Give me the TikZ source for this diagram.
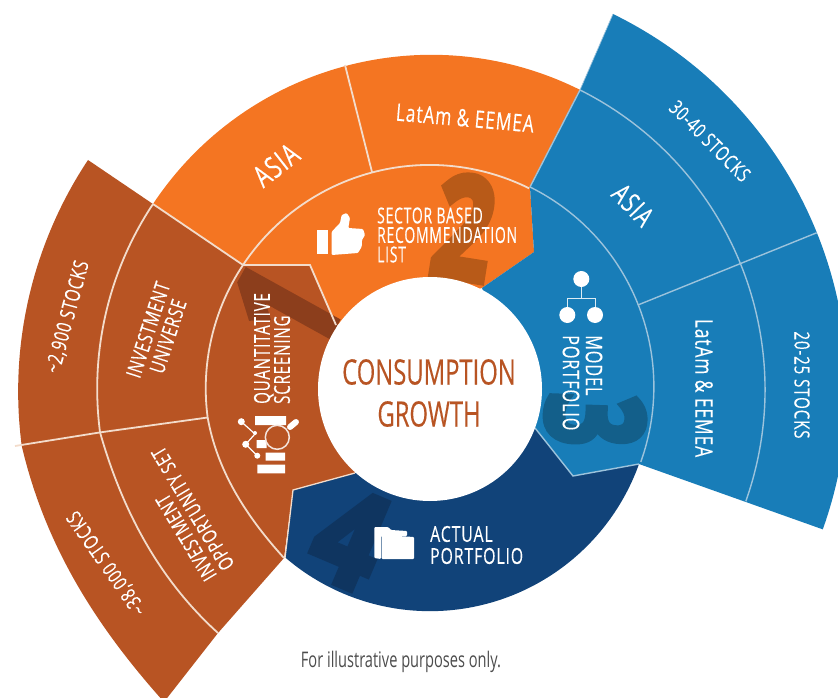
\documentclass[tikz,border=0pt]{standalone}
\usepackage{fontspec}
\setmainfont{Open Sans}
\newfontfamily\lblfont[FakeStretch=0.72,LetterSpace=4,FakeBold=0.25]{Open Sans}
\newfontfamily\ctrfont[FakeStretch=0.68,FakeBold=0.25]{Open Sans}
\newfontfamily\footfont[FakeStretch=0.68]{Open Sans}
\newfontfamily\numfont[FakeStretch=0.9,FakeBold=5]{Open Sans Bold}
\definecolor{cOrange}{HTML}{F47522}
\definecolor{cBrown}{HTML}{B85423}
\definecolor{cBlue}{HTML}{187DB8}
\definecolor{cNavy}{HTML}{114379}
\definecolor{cNumA}{HTML}{8C3E1C}
\definecolor{cNumB}{HTML}{B85A18}
\definecolor{cNumC}{HTML}{135F8A}
\definecolor{cNumD}{HTML}{0F3560}
\definecolor{cLine}{HTML}{F3DCCB}
\definecolor{cLineB}{HTML}{9CC3DC}
\tikzset{
 lbl/.style={text=white,inner sep=0pt,font=\lblfont\fontsize{#1}{#1}\selectfont,transform shape},
 lbl/.default=20,
 bignum/.style={inner sep=0pt,font=\numfont\fontsize{#1}{#1}\selectfont,transform shape},
 sepw/.style={draw=cLine,line width=1.8pt},
 sepb/.style={draw=cLineB,line width=1.4pt},
 icon/.style={fill=white,draw=none},
}
\begin{document}
\begin{tikzpicture}[x=1pt,y=-1pt]
\clip (0,0) rectangle (838,698);
\useasboundingbox (0,0) rectangle (838,698);
\coordinate (c) at (430,389);
% fills
\fill[cOrange] (153,204) arc[start angle=146.4,end angle=63.5,radius=334pt] -- (530,187) -- (534,252) -- (482,288) -- (336,325) -- (310,265) -- (243,265) -- cycle;
\fill[cBlue] (580,90) -- (613,14) arc[start angle=64,end angle=-19.7,radius=417pt] -- (639,464) -- (573,476) -- (535,428) -- (482,288) -- (534,252) -- (530,187) -- cycle;
\fill[cNavy] (639,464) arc[start angle=-19.7,end angle=-130.7,radius=222pt] -- (293,490) -- (355,473) -- (535,428) -- (573,476) -- cycle;
\fill[cBrown] (88,160) arc[start angle=146.4,end angle=187.5,radius=418pt] .. controls (45,545) and (95,625) .. (164,702) -- (218,633) -- (284,558) -- (293,490) -- (355,473) -- (336,325) -- (310,265) -- (243,265) -- cycle;
% big numbers under the separators
\node[bignum=142,text=cNumA,rotate=61,xscale=.85] (n1) at (285,308) {1};
\node[bignum=142,text=cNumB,rotate=-9,xscale=.8] (n2) at (464,227) {2};
\node[bignum=134,text=cNumC,rotate=-92,xscale=.76] (n3) at (595,420) {3};
\node[bignum=132,text=cNumD,rotate=-23,xscale=.95] (n4) at (350,538) {4};
% brown separators
\draw[sepw] (153,204) -- (243,265) -- (310,265) -- (336,325);
\draw[sepw] (243,265) arc[start angle=146.4,end angle=187.5,radius=223pt] coordinate (b2) .. controls (217,470) and (245,515) .. (284,558);
\draw[sepw] (153,204) arc[start angle=146.4,end angle=187.5,radius=334pt] coordinate (b3) .. controls (125,520) and (165,585) .. (218,633);
\draw[sepw] (b2) -- (b3) -- (15,446);
% orange separators
\draw[sepw] (243,265) arc[start angle=146.4,end angle=63.6,radius=224pt];
\draw[sepw] (372,172) -- (345,65);
% blue separators
\draw[sepb] (530,187) arc[start angle=63.6,end angle=-19.7,radius=223pt];
\draw[sepb] (580,90) arc[start angle=63.4,end angle=-19.5,radius=335pt];
\draw[sepb] (530,187) -- (580,90);
\draw[sepb,line width=.7pt] (580,90) -- (613,14);
\path (c) ++(22:224pt) coordinate (s1) (c) ++(22:417pt) coordinate (s2);
\draw[sepb] (s1) -- (s2);
\draw[sepb] (535,428) -- (573,476) -- (639,464);
\draw[sepw,line width=1.3pt] (355,473) -- (293,490) -- (285,558);
% white centre
\fill[white] (c) circle[radius=112pt];
% centre title
\node[text=cBrown,inner sep=0pt,align=center,font=\ctrfont\fontsize{35}{42}\selectfont] (title) at (429,393) {CONSUMPTION\\GROWTH};
% ring labels
\node[lbl=22,xscale=.88,anchor=west,align=left] (t2) at (377,235) {SECTOR BASED\\[-2.5pt]RECOMMENDATION\\[-2.5pt]LIST};
\node[lbl=22,rotate=90,xscale=.95,anchor=west,align=left] (t1) at (272,404) {QUANTITATIVE\\[-2pt]SCREENING};
\node[lbl=23,rotate=-90,xscale=.98,anchor=west,align=left] (t3) at (582.5,335) {MODEL\\PORTFOLIO};
\node[lbl=22,anchor=west,align=left] (t4) at (430,545) {ACTUAL\\PORTFOLIO};
% outer labels
\node[lbl=30,rotate=38] (o1) at (276,165) {ASIA};
\node[lbl=24,rotate=-5] (o2) at (465,118) {LatAm \& EEMEA};
\node[lbl=28,rotate=-46] (o3) at (633,205) {ASIA};
\node[lbl=20.5,rotate=-45] (o4) at (710,141) {30-40 STOCKS};
\node[lbl=24,rotate=-90] (o5) at (704,388) {LatAm \& EEMEA};
\node[lbl=21,rotate=-90] (o6) at (802,385) {20-25 STOCKS};
\node[lbl=21,rotate=72,align=center] (o7) at (158,333) {INVESTMENT\\UNIVERSE};
\node[lbl=21,rotate=75] (o8) at (68,317) {\textasciitilde 2,900 STOCKS};
\node[lbl=20.5,rotate=121,align=left] (o9) at (184,514) {INVESTMENT\\OPPORTUNITY SET};
\node[lbl=20.5,rotate=125] (o10) at (107,563) {\textasciitilde 38,000 STOCKS};
% footer
\node[text=black!70,inner sep=0pt,font=\footfont\fontsize{21.5}{21.5}\selectfont] (foot) at (401,662) {For illustrative purposes only.};
% thumb icon
\fill[icon] (317,230) rectangle (328,254);
\fill[icon,rounded corners=1pt] (331.7,231.7) -- (340,223) -- (341.7,215) -- (346.7,213) -- (350,218) -- (348.3,228) -- (363,229) -- (365,235) -- (362,240) -- (361.7,246.7) -- (358,253) -- (331.7,255) -- cycle;
% network icon
\draw[white!85!cBlue,line width=1pt] (581.3,279) -- (581.3,298) (567.3,315) -- (567.3,298) -- (595,298) -- (595,315);
\fill[icon] (581.3,279) circle[radius=8pt] (567.3,315) circle[radius=8pt] (595,315) circle[radius=8pt];
% screening icon
\fill[icon] (255,416) rectangle (286,425) (256.7,440) rectangle (266.7,448) (265.7,452.7) rectangle (285,460.7) (257.3,464.7) rectangle (285,473.3);
\draw[white,line width=1.2pt] (241.3,421.7) -- (255,434) -- (245.7,444.3) -- (257.3,455.7);
\fill[icon] (241.3,421.7) circle[radius=3.5pt] (245.7,444.3) circle[radius=3.5pt] (257.3,455.7) circle[radius=3pt] (255,433) circle[radius=2pt];
\draw[white!85!cBrown,line width=1.5pt,fill=cBrown] (277.3,437.3) circle[radius=12pt];
\draw[white,line width=6pt,line cap=round] (290,427) -- (296,422);
% folder icon
\fill[icon,rounded corners=1pt] (374.3,527) -- (388,527) -- (391,530) -- (407,531) -- (407,536) -- (381,536) -- (381,559) -- (374.3,558) -- cycle;
\fill[icon,rounded corners=1pt] (381.7,535) -- (414,537) -- (414,559) -- (381.7,559) -- cycle;
\end{tikzpicture}
\end{document}
